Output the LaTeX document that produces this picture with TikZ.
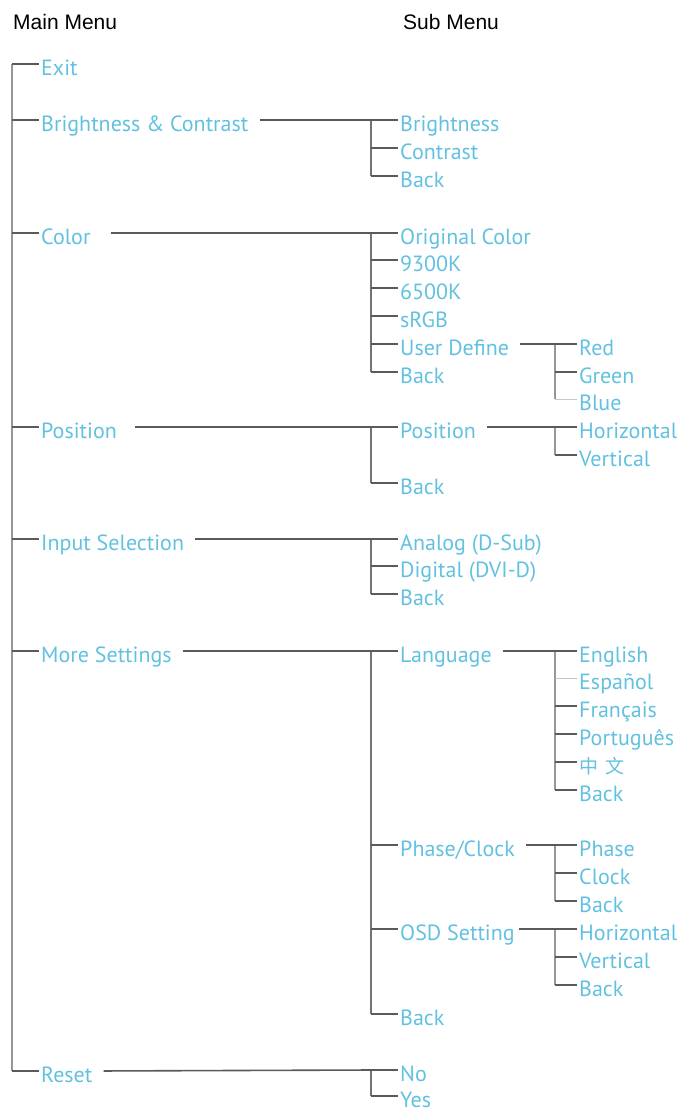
\documentclass[tikz,border=0pt]{standalone}
\usepackage{fontspec}
\setmainfont{PT Sans}
\newfontfamily\headfont{Liberation Sans}
\newfontfamily\cjkfont{Noto Sans CJK SC}
\definecolor{menublue}{RGB}{98,193,224}
\definecolor{linegray}{RGB}{90,90,90}
\definecolor{bargray}{RGB}{150,150,150}
\tikzset{
	item/.style={anchor=west, inner xsep=2pt, inner ysep=0pt, text height=22pt, text depth=0pt, text=menublue, font=\fontsize{22}{22}\selectfont},
	head/.style={anchor=west, inner sep=0pt, font=\headfont\fontsize{21}{21}\selectfont},
	branch/.style={draw=linegray, line width=1.6pt},
	faintbranch/.style={draw=gray!45, line width=0.7pt},
	trunk/.style={draw=bargray, line width=2pt},
	subtrunk/.style={draw=linegray!85, line width=1.7pt},
	link/.style={draw=linegray, line width=1.6pt, shorten <=9pt},
}

\begin{document}
\begin{tikzpicture}[x=1pt, y=-1pt]
	\useasboundingbox (0,0) rectangle (693,1111);
	\node[head] (mainhead) at (13,22) {Main Menu};
	\node[head] (subhead) at (403,22) {Sub Menu};

	\coordinate (trunkx) at (12,0);
	\coordinate (subx) at (371,0);
	\coordinate (thirdx) at (555,0);

	% main menu
	\node[item] (exit) at (39,64) {Exit};
	\node[item] (bc) at (39,120) {Brightness \& Contrast};
	\node[item] (color) at (39,233) {Color};
	\node[item] (position) at (39,427) {Position};
	\node[item] (input) at (39,539) {Input Selection};
	\node[item] (more) at (39,651) {More Settings};
	\node[item] (reset) at (39,1071) {Reset};

	% sub menu
	\node[item] (bright) at (398,120) {Brightness};
	\node[item] (contrast) at (398,148) {Contrast};
	\node[item] (bcback) at (398,176) {Back};
	\node[item] (orig) at (398,233) {Original Color};
	\node[item] (kninethree) at (398,260) {9300K};
	\node[item] (ksixfive) at (398,288) {6500K};
	\node[item] (srgb) at (398,316) {sRGB};
	\node[item] (userdef) at (398,344) {User Define};
	\node[item] (colback) at (398,372) {Back};
	\node[item] (pos) at (398,427) {Position};
	\node[item] (posback) at (398,483) {Back};
	\node[item] (analog) at (398,539) {Analog (D-Sub)};
	\node[item] (digital) at (398,566) {Digital (DVI-D)};
	\node[item] (inback) at (398,594) {Back};
	\node[item] (lang) at (398,651) {Language};
	\node[item] (phaseclock) at (398,845) {Phase/Clock};
	\node[item] (osd) at (398,929) {OSD Setting};
	\node[item] (moreback) at (398,1014) {Back};
	\node[item] (no) at (398,1070) {No};
	\node[item] (yes) at (398,1096) {Yes};

	% third level
	\node[item] (red) at (577,344) {Red};
	\node[item] (green) at (577,372) {Green};
	\node[item] (blue) at (577,399) {Blue};
	\node[item] (poshor) at (577,427) {Horizontal};
	\node[item] (posver) at (577,455) {Vertical};
	\node[item] (english) at (577,651) {English};
	\node[item] (espanol) at (577,678) {Español};
	\node[item] (francais) at (577,706) {Français};
	\node[item] (portugues) at (577,734) {Português};
	\node[item] (chinese) at (577,762) {\cjkfont\fontsize{19}{19}\selectfont 中\hspace{7pt}文};
	\node[item] (langback) at (577,790) {Back};
	\node[item] (phase) at (577,845) {Phase};
	\node[item] (clock) at (577,873) {Clock};
	\node[item] (phaseback) at (577,901) {Back};
	\node[item] (osdhor) at (577,929) {Horizontal};
	\node[item] (osdver) at (577,957) {Vertical};
	\node[item] (osdback) at (577,985) {Back};

	% trunk of the main menu
	\draw[trunk] (exit.west -| trunkx) -- (reset.west -| trunkx);
	\foreach \n in {exit,bc,color,position,input,more,reset}
		\draw[branch] (\n.west -| trunkx) -- (\n.west);

	% sub menu bars
	\draw[subtrunk] (bright.west -| subx) -- (bcback.west -| subx);
	\draw[subtrunk] (orig.west -| subx) -- (colback.west -| subx);
	\draw[subtrunk] (pos.west -| subx) -- (posback.west -| subx);
	\draw[subtrunk] (analog.west -| subx) -- (inback.west -| subx);
	\draw[subtrunk] (lang.west -| subx) -- (moreback.west -| subx);
	\draw[subtrunk] (no.west -| subx) -- (yes.west -| subx);
	\foreach \n in {bright,contrast,bcback,orig,kninethree,ksixfive,srgb,userdef,colback,pos,posback,analog,digital,inback,lang,phaseclock,osd,moreback,no,yes}
		\draw[branch] (\n.west -| subx) -- (\n.west);

	% third level bars
	\draw[trunk] (red.west -| thirdx) -- (blue.west -| thirdx);
	\draw[trunk] (poshor.west -| thirdx) -- (posver.west -| thirdx);
	\draw[trunk] (english.west -| thirdx) -- (langback.west -| thirdx);
	\draw[trunk] (phase.west -| thirdx) -- (phaseback.west -| thirdx);
	\draw[trunk] (osdhor.west -| thirdx) -- (osdback.west -| thirdx);
	\foreach \n in {red,green,poshor,posver,english,francais,portugues,chinese,langback,phase,clock,phaseback,osdhor,osdver,osdback}
		\draw[branch] (\n.west -| thirdx) -- (\n.west);
	\draw[faintbranch] (blue.west -| thirdx) -- (blue.west);
	\draw[faintbranch] (espanol.west -| thirdx) -- (espanol.west);

	% links from an item to its sub menu
	\draw[link] (bc.east) -- (bright.west -| subx);
	\draw[link, shorten <=18pt] (color.east) -- (orig.west -| subx);
	\draw[link, shorten <=16pt] (position.east) -- (pos.west -| subx);
	\draw[link] (input.east) -- (analog.west -| subx);
	\draw[link] (more.east) -- (lang.west -| subx);
	\draw[link] (reset.east) -- (no.west -| subx);
	\draw[link] (userdef.east) -- (red.west -| thirdx);
	\draw[link] (pos.east) -- (poshor.west -| thirdx);
	\draw[link] (lang.east) -- (english.west -| thirdx);
	\draw[link] (phaseclock.east) -- (phase.west -| thirdx);
	\draw[link, shorten <=2pt] (osd.east) -- (osdhor.west -| thirdx);
\end{tikzpicture}
\end{document}
